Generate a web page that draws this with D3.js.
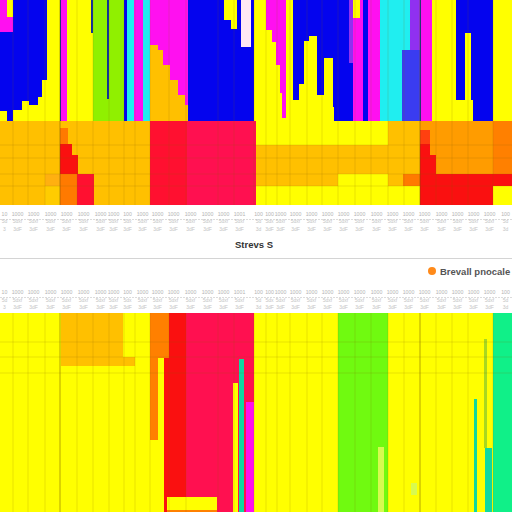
<!DOCTYPE html>
<html>
<head>
<meta charset="utf-8">
<script src="https://cdn.jsdelivr.net/npm/d3@7/dist/d3.min.js"></script>
<style>
  html, body { margin: 0; padding: 0; background: #fff; }
  svg { display: block; }
  text { font-family: "Liberation Sans", sans-serif; }
</style>
</head>
<body>
<svg id="chart" width="512" height="512"></svg>
<script>
// Heat bands: each run is [binStart, binEnd, depthStart, depthEnd, level]; later runs paint over earlier ones.
const levelNames = ["blue","navy","indigo","purple","magenta","cyan","lime","green","teal","mint","yellow","gold","amber","dimAmber","tangerine","deep","orange","redOrange","red","scarlet","crimson","pale","paleGreen","olive"];
const levelColors = ["#0404ee","#10309a","#3a3cf0","#9030f0","#ff10f0","#20eef0","#90f000","#70fa10","#10d8a0","#10f088","#ffff00","#ffcc00","#ffc000","#ffb010","#ff9c00","#ff8000","#ff7a00","#ff4010","#fa1010","#ff1030","#ff1050","#ffe8f4","#d8fa50","#a8d820"];

const topRuns = [
  [0,23.5,0,60.5,"blue"],[0,3.5,55.5,60.5,"yellow"],[6.5,11,55,60.5,"yellow"],[11,14.5,50.5,60.5,"yellow"],
  [14.5,19,52.5,60.5,"yellow"],[19,21,48.5,60.5,"yellow"],[21,23.5,40,60.5,"yellow"],[23.5,30,0,60.5,"yellow"],
  [0,6.5,0,16,"magenta"],[3.5,6.5,0,8.5,"yellow"],
  [30,33.5,0,60.5,"magenta"],[30,30.5,0,60.5,"navy"],[33.5,46.5,0,60.5,"yellow"],[46.5,62,0,60.5,"lime"],
  [45.5,46.5,0,16.5,"navy"],[53.5,54.5,0,49.5,"navy"],
  [62,63.5,0,60.5,"blue"],[63.5,67,0,60.5,"cyan"],[67,71.5,0,60.5,"magenta"],[71.5,75,0,60.5,"cyan"],
  [75,94,0,60.5,"magenta"],[75,79,22.5,60.5,"amber"],[79,81.5,25,60.5,"amber"],[81.5,85,32.5,60.5,"amber"],
  [85,89,40,60.5,"amber"],[89,92.5,47.5,60.5,"amber"],[92.5,94,52.5,60.5,"amber"],
  [94,127,0,60.5,"blue"],[112,115.5,0,10,"yellow"],[115.5,118.5,0,14.5,"yellow"],[120.5,125.5,0,23.5,"pale"],
  [127,133,0,60.5,"yellow"],[133,143,0,59,"magenta"],[133,143,59,60.5,"yellow"],[133,136,15,60.5,"yellow"],
  [136,138,21,60.5,"yellow"],[138,140,32.5,60.5,"yellow"],[140,141,46.5,60.5,"yellow"],[143,146.5,0,60.5,"yellow"],
  [146.5,176.5,0,60.5,"blue"],[146.5,149.5,50,60.5,"yellow"],[149.5,152,42,60.5,"yellow"],[152,154.5,20.5,60.5,"yellow"],
  [154.5,158.5,18,60.5,"yellow"],[158.5,162,47.5,60.5,"yellow"],[162,166.5,29,60.5,"yellow"],[166.5,167,53.5,60.5,"yellow"],
  [174.5,176.5,0,31.5,"purple"],[176.5,181.5,0,60.5,"magenta"],[176.5,180,0,9,"yellow"],
  [181.5,184,0,60.5,"blue"],[184,190,0,60.5,"magenta"],[190,201.5,0,60.5,"cyan"],[201.5,205,0,25,"cyan"],
  [205,210,0,25,"purple"],[201,210,25,60.5,"indigo"],[210,210.5,0,60.5,"navy"],[210.5,216,0,60.5,"magenta"],
  [216,228,0,60.5,"yellow"],[228,236.5,0,50,"blue"],[228,236.5,50,60.5,"yellow"],[232.5,235.5,16.5,50,"yellow"],
  [236.5,246.5,0,60.5,"blue"],[246.5,256,0,60.5,"yellow"]
];

const midRuns = [
  [0,75,0,42,"amber"],[22.5,30,26.5,32.5,"dimAmber"],[22.5,30,32.5,42,"gold"],
  [30,34,3.5,11.5,"orange"],[30,36,11.5,17,"red"],[30,39,17,26.5,"red"],[30,38.5,26.5,42,"orange"],[38.5,47,26.5,42,"scarlet"],
  [75,93.5,0,42,"scarlet"],[93.5,128,0,42,"crimson"],
  [128,194,0,12,"yellow"],[194,210,0,12,"amber"],[128,210,12,26.5,"amber"],[128,169,26.5,32.5,"amber"],
  [169,194,26.5,32.5,"yellow"],[194,201.5,26.5,32.5,"amber"],[201.5,210,26.5,32.5,"orange"],[128,210,32.5,42,"yellow"],
  [210,246.5,0,42,"tangerine"],[246.5,256,0,42,"deep"],[210,215,4.5,11.5,"redOrange"],[210,215,11.5,17,"red"],
  [210,218,17,26.5,"red"],[210,256,26.5,32.5,"red"],[210,246.5,32.5,42,"red"],[246.5,256,32.5,42,"yellow"]
];

const lowRuns = [
  [0,256,0,99.5,"yellow"],[30.5,61.5,0,22,"amber"],[30.5,67.5,22,26.5,"amber"],
  [75,84.5,0,22.5,"deep"],[75,79,22.5,63.5,"deep"],[79.5,82,22.5,99.5,"yellow"],
  [82,93,22.5,99.5,"red"],[84.5,93,0,22.5,"red"],[93,127,0,99.5,"crimson"],
  [83.5,108.5,92,98.5,"yellow"],[83.5,108.5,98.5,99.5,"deep"],
  [116.5,119,35,99.5,"yellow"],[119.5,122,23,99.5,"teal"],[123,127,44.5,99.5,"magenta"],
  [169,194,0,99.5,"green"],[189,192,67,99.5,"paleGreen"],[205.5,208.5,85,91,"paleGreen"],
  [237,238.5,43,99.5,"teal"],[242,243.5,13,67.5,"olive"],[242.5,246,67.5,99.5,"teal"],[246.5,256,0,99.5,"mint"]
];

// Grid divisions, in bins and depth
const columnEdges = [6.5,14,22.5,38.5,46.5,54.5,62,67.5,75,84.5,93,109,117,127,133,138.5,145,153.5,161,169,177.5,185.5,194,202,218,226,234,246.5];
const strongEdges = [30,210];
const midRows = [12,18.5,26.5,32.5];
const lowRows = [14.5,22,30];

// Tick rows above and below the separator
const tickBins = [2,8.5,16.5,25,33,41.5,50,56.5,63.5,71,78.5,86.5,95,103.5,111.5,119.5,129,134.5,140,147.5,155.5,163.5,171.5,179.5,188,196,204,212,220.5,228.5,236.5,244.5,252.5];
const tickYears = ["10","1000","1000","1000","1000","1000","1000","1000","100","1000","1000","1000","1000","1000","1000","1001","100","100","1000","1000","1000","1000","1000","1000","1000","1000","1000","1000","1000","1000","1000","1000","100"];
const tickCodes = ["5d","5dxf","5dxf","5dxf","5dxf","5dxf","5dxf","5dxf","5dx","5dxf","5dxf","5dxf","5dxf","5dxf","5dxf","5dxf","5d","5dx","5dxf","5dxf","5dxf","5dxf","5dxf","5dxf","5dxf","5dxf","5dxf","5dxf","5dxf","5dxf","5dxf","5dxf","5d"];
const tickUnits = ["3","3dF","3dF","3dF","3dF","3dF","3dF","3dF","3dF","3dF","3dF","3dF","3dF","3dF","3dF","3dF","3d","3dF","3dF","3dF","3dF","3dF","3dF","3dF","3dF","3dF","3dF","3dF","3dF","3dF","3dF","3dF","3d"];

const titleText = "Strevs S";
const legendText = "Brevall pnocale";

const svg = d3.select("#chart");
const x = d3.scaleLinear().domain([0, 256]).range([0, 512]);
const color = d3.scaleOrdinal().domain(levelNames).range(levelColors);

// Draws one heat band with its grid overlay
function drawBand(runs, depthMax, top, bottom, rows) {
  const y = d3.scaleLinear().domain([0, depthMax]).range([top, bottom]);
  const g = svg.append("g");
  g.selectAll("rect").data(runs).join("rect")
    .attr("x", d => x(d[0]))
    .attr("width", d => x(d[1]) - x(d[0]))
    .attr("y", d => y(d[2]))
    .attr("height", d => y(d[3]) - y(d[2]))
    .attr("fill", d => color(d[4]));
  g.selectAll("line.col").data(columnEdges).join("line").attr("class", "col")
    .attr("x1", d => x(d)).attr("x2", d => x(d))
    .attr("y1", top).attr("y2", bottom)
    .attr("stroke", "#8a6a00").attr("stroke-opacity", 0.18).attr("stroke-width", 1);
  g.selectAll("line.edge").data(strongEdges).join("line").attr("class", "edge")
    .attr("x1", d => x(d)).attr("x2", d => x(d))
    .attr("y1", top).attr("y2", bottom)
    .attr("stroke", "#705000").attr("stroke-opacity", 0.5).attr("stroke-width", 1);
  g.selectAll("line.row").data(rows).join("line").attr("class", "row")
    .attr("x1", 0).attr("x2", 512)
    .attr("y1", d => y(d)).attr("y2", d => y(d))
    .attr("stroke", "#8a6a00").attr("stroke-opacity", 0.18).attr("stroke-width", 1);
}

drawBand(topRuns, 60.5, 0, 121, []);
drawBand(midRuns, 42, 121, 205, midRows);
drawBand(lowRuns, 99.5, 313, 512, lowRows);

// One row of tiny tick text, placed by the bin axis
function tickRow(labels, yPos, fill, size) {
  const axis = d3.axisBottom(x).tickValues(tickBins).tickSize(0).tickPadding(0)
    .tickFormat((d, i) => labels[i]);
  const g = svg.append("g").attr("transform", `translate(0,${yPos})`).call(axis);
  g.select(".domain").remove();
  g.selectAll("text").attr("fill", fill).attr("font-size", size)
    .attr("font-family", "'Liberation Sans', sans-serif").attr("dy", 0);
}

[[216, 223, 231, 219.5], [294, 302, 309, 297.5]].forEach(([a, b, c, rule]) => {
  tickRow(tickYears, a, "#b4b4b4", 5.2);
  svg.append("line").attr("x1", 0).attr("x2", 512).attr("y1", rule).attr("y2", rule)
    .attr("stroke", "#dcdcdc").attr("stroke-width", 1).attr("stroke-dasharray", "2 1");
  tickRow(tickCodes, b, "#c4c4c4", 5);
  tickRow(tickUnits, c, "#c4c4c4", 5);
});

// Title, separator and legend between the bands
svg.append("text").attr("x", 254).attr("y", 248).attr("text-anchor", "middle")
  .attr("font-size", 9.5).attr("font-weight", 700).attr("fill", "#333").text(titleText);
svg.append("line").attr("x1", 0).attr("x2", 512).attr("y1", 258.5).attr("y2", 258.5)
  .attr("stroke", "#d4d4d4").attr("stroke-width", 1);
svg.append("circle").attr("cx", 432).attr("cy", 271).attr("r", 4).attr("fill", "#ff8a1a");
svg.append("text").attr("x", 440).attr("y", 274.5)
  .attr("font-size", 9.5).attr("font-weight", 700).attr("fill", "#555").text(legendText);
</script>
</body>
</html>
